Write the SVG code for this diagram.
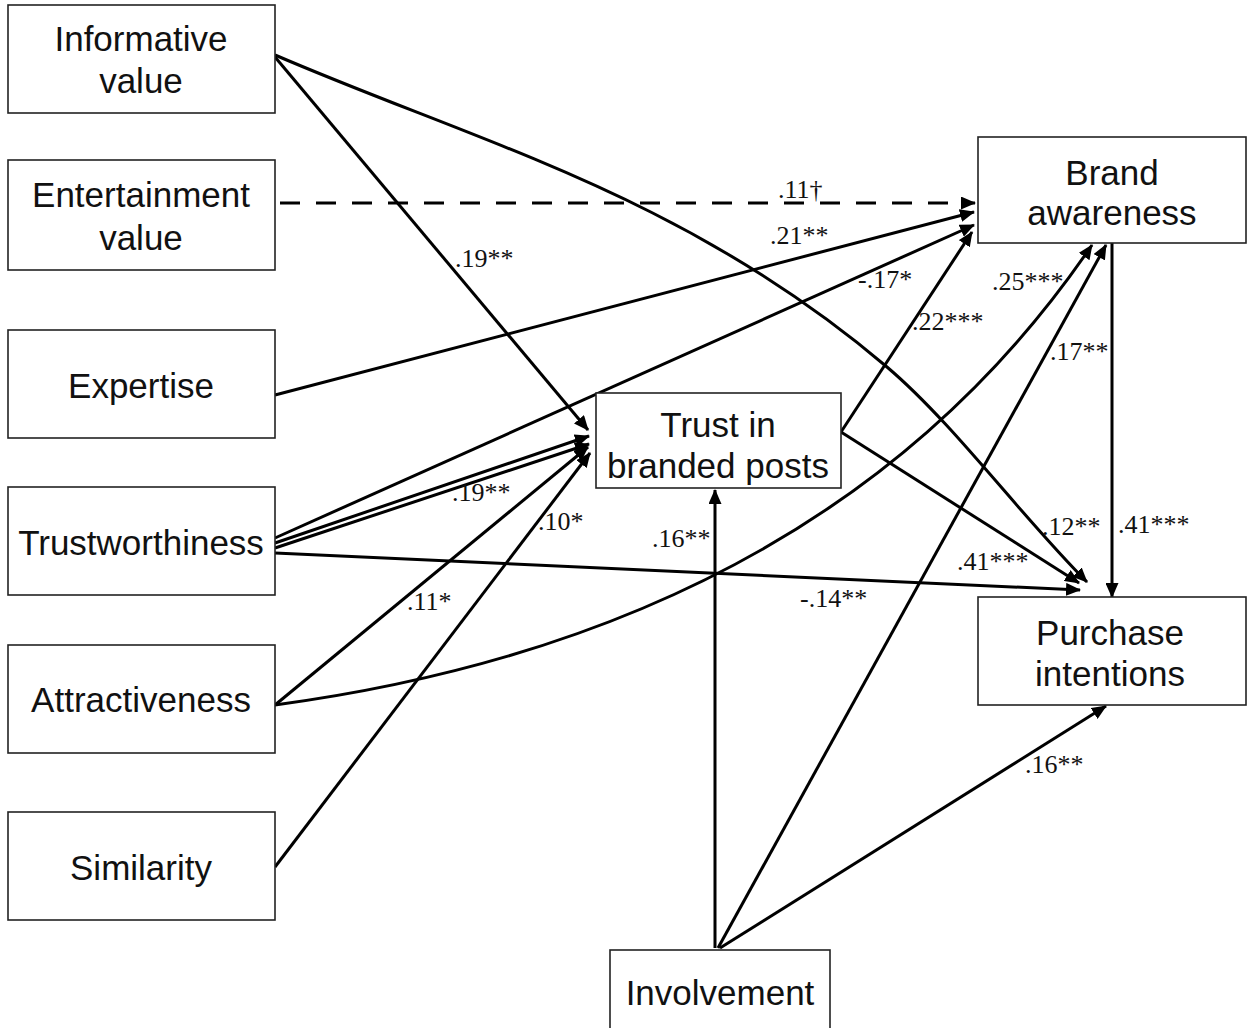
<svg xmlns="http://www.w3.org/2000/svg" width="1252" height="1028" viewBox="0 0 1252 1028">
  <defs>
    <marker id="arrow" markerUnits="userSpaceOnUse" markerWidth="15" markerHeight="13" refX="14" refY="6.5" orient="auto">
      <path d="M0,0 L15,6.5 L0,13 z" fill="#000"/>
    </marker>
    <style>
      .box { fill: #fff; stroke: #222; stroke-width: 1.6; }
      .node-text { font-family: "Liberation Sans", Arial, sans-serif; font-size: 35px; fill: #111; text-anchor: middle; }
      .edge { fill: none; stroke: #000; stroke-width: 3; marker-end: url(#arrow); }
      .dashed { stroke-dasharray: 20 16; }
      .coef { font-family: "Liberation Serif", "Times New Roman", serif; font-size: 26px; fill: #111; }
    </style>
  </defs>
  <rect width="1252" height="1028" fill="#fff"/>

  <!-- paths between constructs -->
  <g id="connectors">
    <!-- informative value -->
    <path class="edge" d="M275,57 L588,430"/>
    <path class="edge" d="M275,55 C479,143 683,194 887,367 C954,424 1020,515 1087,582"/>
    <!-- entertainment value -->
    <path class="edge dashed" d="M280,203 L975,203"/>
    <!-- expertise -->
    <path class="edge" d="M275,395 L974,212"/>
    <!-- trustworthiness -->
    <path class="edge" d="M275,538 L974,225"/>
    <path class="edge" d="M275,543 L589,436"/>
    <path class="edge" d="M275,548 L589,444"/>
    <path class="edge" d="M275,553 L1080,590"/>
    <!-- attractiveness -->
    <path class="edge" d="M275,705 L588,447"/>
    <path class="edge" d="M275,705 Q830,630 1092,245"/>
    <!-- similarity -->
    <path class="edge" d="M275,867 L590,453"/>
    <!-- trust in branded posts -->
    <path class="edge" d="M841,432 L972,232"/>
    <path class="edge" d="M841,432 L1079,583"/>
    <!-- brand awareness -->
    <path class="edge" d="M1112,243 L1112,597"/>
    <!-- involvement -->
    <path class="edge" d="M715,948 L715,490"/>
    <path class="edge" d="M718,948 L1106,245"/>
    <path class="edge" d="M720,948 L1106,706"/>
  </g>

  <!-- path coefficients -->
  <g id="coefficients">
    <text class="coef" x="778" y="198">.11†</text>
    <text class="coef" x="770" y="244">.21**</text>
    <text class="coef" x="455" y="267">.19**</text>
    <text class="coef" x="858" y="288">-.17*</text>
    <text class="coef" x="912" y="330">.22***</text>
    <text class="coef" x="992" y="290">.25***</text>
    <text class="coef" x="1050" y="360">.17**</text>
    <text class="coef" x="452" y="501">.19**</text>
    <text class="coef" x="538" y="530">.10*</text>
    <text class="coef" x="652" y="547">.16**</text>
    <text class="coef" x="1042" y="535">.12**</text>
    <text class="coef" x="957" y="570">.41***</text>
    <text class="coef" x="1118" y="533">.41***</text>
    <text class="coef" x="407" y="610">.11*</text>
    <text class="coef" x="800" y="607">-.14**</text>
    <text class="coef" x="1025" y="773">.16**</text>
  </g>

  <g id="informative-value">
    <rect class="box" x="8" y="5" width="267" height="108"/>
    <text class="node-text" x="141" y="51">Informative</text>
    <text class="node-text" x="141" y="93">value</text>
  </g>
  <g id="entertainment-value">
    <rect class="box" x="8" y="160" width="267" height="110"/>
    <text class="node-text" x="141" y="207">Entertainment</text>
    <text class="node-text" x="141" y="250">value</text>
  </g>
  <g id="expertise">
    <rect class="box" x="8" y="330" width="267" height="108"/>
    <text class="node-text" x="141" y="398">Expertise</text>
  </g>
  <g id="trustworthiness">
    <rect class="box" x="8" y="487" width="267" height="108"/>
    <text class="node-text" x="141" y="555">Trustworthiness</text>
  </g>
  <g id="attractiveness">
    <rect class="box" x="8" y="645" width="267" height="108"/>
    <text class="node-text" x="141" y="712">Attractiveness</text>
  </g>
  <g id="similarity">
    <rect class="box" x="8" y="812" width="267" height="108"/>
    <text class="node-text" x="141" y="880">Similarity</text>
  </g>
  <g id="trust-in-branded-posts">
    <rect class="box" x="596" y="393" width="245" height="95"/>
    <text class="node-text" x="718" y="437">Trust in</text>
    <text class="node-text" x="718" y="478">branded posts</text>
  </g>
  <g id="brand-awareness">
    <rect class="box" x="978" y="137" width="268" height="106"/>
    <text class="node-text" x="1112" y="185">Brand</text>
    <text class="node-text" x="1112" y="225">awareness</text>
  </g>
  <g id="purchase-intentions">
    <rect class="box" x="978" y="597" width="268" height="108"/>
    <text class="node-text" x="1110" y="645">Purchase</text>
    <text class="node-text" x="1110" y="686">intentions</text>
  </g>
  <g id="involvement">
    <rect class="box" x="610" y="950" width="220" height="80"/>
    <text class="node-text" x="720" y="1005">Involvement</text>
  </g>
</svg>
